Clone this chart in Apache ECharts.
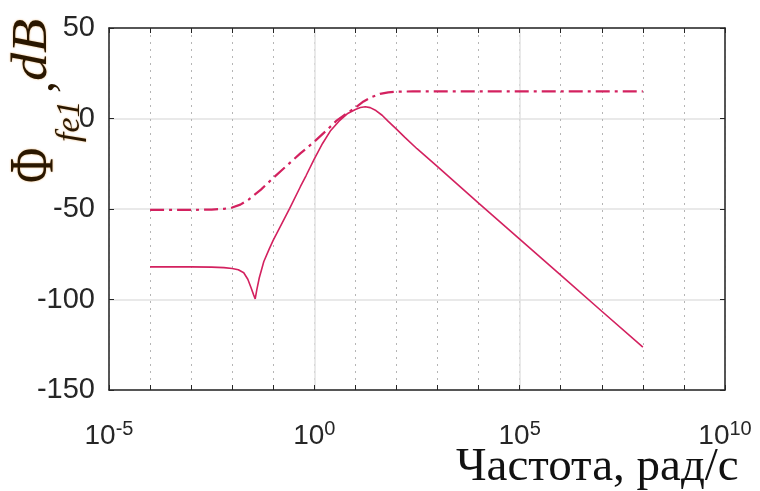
<!DOCTYPE html>
<html><head><meta charset="utf-8">
<script src="https://cdn.jsdelivr.net/npm/echarts@6/dist/echarts.min.js"></script>
<style>html,body{margin:0;padding:0;background:#fff}#c{width:760px;height:491px}</style>
</head><body><div id="c"></div>
<script>
// Frequencies (rad/s) and magnitudes (dB)
const freqSolid = [1e-4, 1e-3, 3.16e-3, 6.31e-3, 1e-2, 1.41e-2, 1.91e-2, 2.4e-2, 2.88e-2, 3.31e-2, 3.63e-2, 3.98e-2, 4.57e-2, 5.89e-2, 7.94e-2, 0.1, 0.158, 0.251, 0.457, 0.631, 1, 1.585, 2.51, 3.98, 6.31, 10, 13.2, 17.4, 22.9, 31.6, 44.7, 63.1, 100, 158, 316, 1e3, 1e4, 1e5, 1e6, 1e7, 1e8];
const gainSolid = [-82, -82, -82.1, -82.4, -82.9, -83.6, -85.2, -88.8, -93.5, -97.3, -99.7, -94.5, -88, -79, -72.2, -67.2, -58.5, -49.6, -37.7, -31.5, -22.3, -13.8, -6.6, -1.5, 2.6, 5.0, 6.1, 6.5, 6.0, 4.4, 1.8, -1.6, -5.9, -10.3, -16.7, -26.6, -46.8, -66.6, -86.5, -106.5, -126.3];
const freqDash = [1e-4, 1e-3, 3.16e-3, 6.31e-3, 1e-2, 1.58e-2, 2.51e-2, 5.01e-2, 0.1, 0.219, 0.457, 1, 2, 3.55, 6.31, 10, 15.8, 25.1, 39.8, 63.1, 100, 251, 1e3, 1e8];
const gainDash = [-50.5, -50.5, -50.3, -49.9, -49.2, -47.6, -44.8, -39.3, -32.8, -25.8, -19.3, -12.8, -6.5, -1, 3.0, 6.0, 9.4, 11.9, 13.6, 14.4, 14.8, 15, 15, 15];
const yTicks = [-150, -100, -50, 0, 50];
const xLabelExponents = [-5, 0, 5, 10];

const lineColor = '#d3215f';
const axisColor = '#262626';
const titleColor = '#2a1700';
const sans = 'Liberation Sans, Arial, sans-serif';
const serif = 'Liberation Serif, Times New Roman, serif';

const chart = echarts.init(document.getElementById('c'), null, {renderer: 'canvas'});

const baseX = {
  type: 'log', logBase: 10, min: 1e-5, max: 1e10, interval: 1,
  axisLine: {show: true, onZero: false, lineStyle: {color: axisColor, width: 1.5}},
  axisTick: {show: true, inside: true, length: 5, lineStyle: {color: axisColor, width: 1}},
  axisLabel: {show: false},
  splitLine: {show: false}
};

const halo = {textShadowColor: 'rgba(220,130,20,0.6)', textShadowBlur: 2};

const option = {
  animation: false,
  grid: {left: 109, top: 28, width: 616, height: 362, show: false},
  xAxis: [
    Object.assign({}, baseX, {
      position: 'bottom',
      axisLabel: {
        show: true, margin: 20, showMinLabel: true, showMaxLabel: true,
        formatter: function (v) {
          const e = Math.round(Math.log10(v));
          if (xLabelExponents.indexOf(e) < 0) return '';
          return '{b|10}{s|' + e + '}';
        },
        rich: {
          b: {fontSize: 28, fontFamily: sans, color: axisColor, lineHeight: 40, verticalAlign: 'bottom'},
          s: {fontSize: 20, fontFamily: sans, color: axisColor, lineHeight: 20, verticalAlign: 'bottom', padding: [0, 0, 11, 0]}
        }
      },
      splitLine: {show: true, lineStyle: {color: '#b5b5b5', type: [2, 5], width: 1}}
    }),
    Object.assign({}, baseX, {position: 'top'}),
    Object.assign({}, baseX, {
      position: 'bottom', interval: 5,
      axisLine: {show: false}, axisTick: {show: false},
      splitLine: {show: true, lineStyle: {color: '#e2e2e2', width: 1.5}}
    })
  ],
  yAxis: [
    {
      type: 'value', min: yTicks[0], max: yTicks[yTicks.length - 1], interval: 50, position: 'left',
      axisLine: {show: true, onZero: false, lineStyle: {color: axisColor, width: 1.5}},
      axisTick: {show: true, inside: true, length: 5, lineStyle: {color: axisColor}},
      axisLabel: {fontSize: 29, fontFamily: sans, color: axisColor, margin: 14},
      splitLine: {show: true, lineStyle: {color: '#e2e2e2', width: 1.5}}
    },
    {
      type: 'value', min: yTicks[0], max: yTicks[yTicks.length - 1], interval: 50, position: 'right',
      axisLine: {show: true, onZero: false, lineStyle: {color: axisColor, width: 1.5}},
      axisTick: {show: true, inside: true, length: 5, lineStyle: {color: axisColor}},
      axisLabel: {show: false},
      splitLine: {show: false}
    }
  ],
  series: [
    {
      type: 'line', xAxisIndex: 0, yAxisIndex: 0, showSymbol: false, smooth: false, z: 3,
      data: freqDash.map((f, i) => [f, gainDash[i]]),
      lineStyle: {color: lineColor, width: 2.2, type: [14, 5, 3, 5]}
    },
    {
      type: 'line', xAxisIndex: 0, yAxisIndex: 0, showSymbol: false, smooth: false, z: 4,
      data: freqSolid.map((f, i) => [f, gainSolid[i]]),
      lineStyle: {color: lineColor, width: 1.6}
    }
  ],
  graphic: [
    {type: 'text', x: 456, y: 491, style: {text: 'Частота, рад/с', font: '47px ' + serif, fill: '#111', align: 'left', verticalAlign: 'bottom'}},
    {type: 'text', x: 37, y: 183, rotation: Math.PI / 2, scaleY: 1.3, style: Object.assign({text: 'Φ', font: '48px ' + serif, fill: titleColor, align: 'left', verticalAlign: 'middle'}, halo)},
    {type: 'text', x: 70, y: 142, rotation: Math.PI / 2, style: Object.assign({text: 'fe1', font: 'italic 34px ' + serif, fill: titleColor, align: 'left', verticalAlign: 'middle'}, halo)},
    {type: 'text', x: 40, y: 93, rotation: Math.PI / 2, style: {text: ',', font: '48px ' + serif, fill: titleColor, align: 'left', verticalAlign: 'middle'}},
    {type: 'text', x: 33, y: 81, rotation: Math.PI / 2, scaleX: 1.12, style: Object.assign({text: 'dB', font: 'italic 50px ' + serif, fill: titleColor, align: 'left', verticalAlign: 'middle'}, halo)}
  ]
};
chart.setOption(option);
</script>
</body></html>
